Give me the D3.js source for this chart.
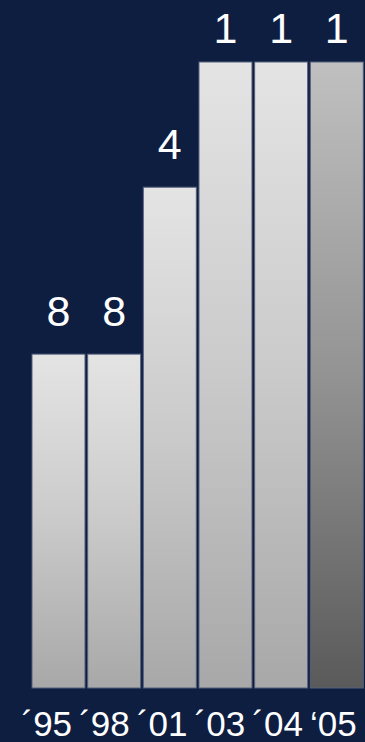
<!DOCTYPE html>
<html>
<head>
<meta charset="utf-8">
<script src="https://cdn.jsdelivr.net/npm/d3@7"></script>
<style>
  html, body { margin: 0; padding: 0; background: #0e1e41; }
  svg { display: block; }
</style>
</head>
<body>
<svg id="chart" width="365" height="742"></svg>
<script>
// Ranking by year (1 = best)
const years = ["´95", "´98", "´01", "´03", "´04", "‘05"];
const ranks = [8, 8, 4, 1, 1, 1];
const currentYear = "‘05";

const svg = d3.select("#chart");

const defs = svg.append("defs");
function grad(id, top, mid, bottom) {
  const g = defs.append("linearGradient")
    .attr("id", id).attr("x1", 0).attr("y1", 0).attr("x2", 0).attr("y2", 1);
  g.append("stop").attr("offset", "0%").attr("stop-color", top);
  g.append("stop").attr("offset", "50%").attr("stop-color", mid);
  g.append("stop").attr("offset", "100%").attr("stop-color", bottom);
}
grad("barPast", "#e4e4e4", "#cacaca", "#a8a8a8");
grad("barCurrent", "#c0c0c0", "#939393", "#5a5a5a");

const x = d3.scaleBand()
  .domain(years)
  .range([32, 363.3])
  .paddingInner(0.048)
  .paddingOuter(0);

// Year captions run as one line across the full width
const xLabel = d3.scalePoint()
  .domain(years)
  .range([21, 309.5]);

// Lower rank draws a taller bar
const y = d3.scaleLinear()
  .domain([16, 1])
  .range([688, 62]);

const data = years.map((yr, i) => ({ year: yr, rank: ranks[i] }));

svg.append("g")
  .selectAll("rect")
  .data(data)
  .join("rect")
  .attr("x", d => x(d.year))
  .attr("y", d => y(d.rank))
  .attr("width", x.bandwidth())
  .attr("height", d => y(16) - y(d.rank))
  .attr("fill", d => d.year === currentYear ? "url(#barCurrent)" : "url(#barPast)")
  .attr("stroke", "#55617d")
  .attr("stroke-width", 1);

// Rank labels above bars, kept inside the top edge
const labelSize = 43;
svg.append("g")
  .selectAll("text")
  .data(data)
  .join("text")
  .attr("x", d => x(d.year) + x.bandwidth() / 2)
  .attr("y", d => Math.max(y(d.rank) - 28, labelSize))
  .attr("text-anchor", "middle")
  .attr("font-family", "Liberation Sans, Arial, sans-serif")
  .attr("font-size", labelSize)
  .attr("fill", "#ffffff")
  .text(d => d.rank);

// Year axis
const axis = svg.append("g")
  .attr("transform", "translate(0,688)")
  .call(d3.axisBottom(xLabel).tickSize(0).tickPadding(0));
axis.select(".domain").remove();
axis.selectAll("text")
  .attr("x", 0)
  .attr("y", 47.5)
  .attr("dy", 0)
  .attr("text-anchor", "start")
  .attr("font-family", "Liberation Sans, Arial, sans-serif")
  .attr("font-size", 35)
  .attr("fill", "#ffffff");
</script>
</body>
</html>
